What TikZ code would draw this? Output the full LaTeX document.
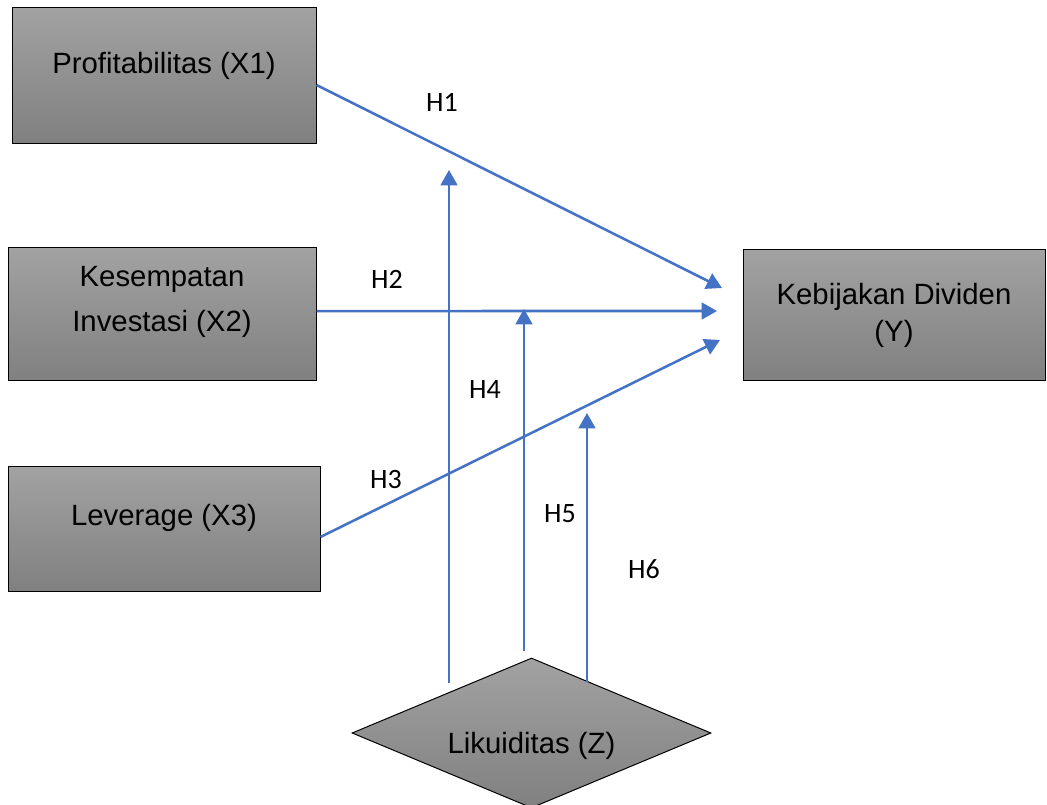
\documentclass[tikz,border=0pt]{standalone}
\usepackage{fontspec}
\setmainfont{Liberation Sans}
\newfontfamily\calib{Carlito}
\usetikzlibrary{arrows.meta,shapes.geometric}
\definecolor{lineblue}{HTML}{4472C4}
\definecolor{gtop}{HTML}{A2A2A2}
\definecolor{gbot}{HTML}{808080}
\begin{document}
\begin{tikzpicture}[x=0.75pt,y=-0.75pt,
  box/.style={draw=black, line width=0.75pt, top color=gtop, bottom color=gbot, inner sep=0pt},
  boxtext/.style={font=\fontsize{22}{30}\selectfont, align=center, text=black},
  conn/.style={draw=lineblue, line width=1.9pt, -{Triangle[length=11.5pt,width=12.5pt]}},
  hlab/.style={font=\calib\fontsize{21}{25}\selectfont, text=black, inner sep=0pt}]
\useasboundingbox (0,0) rectangle (1047,805);

\node[box, minimum width=228pt, minimum height=102pt,
  label={[boxtext, yshift=7.5pt]center:Profitabilitas (X1)}] (x1) at (164,76) {};
\node[box, minimum width=231pt, minimum height=99.75pt,
  label={[boxtext, yshift=9.4pt, font=\fontsize{22}{33.5}\selectfont]center:Kesempatan\\Investasi (X2)}] (x2) at (162,314.5) {};
\node[box, minimum width=234pt, minimum height=93.75pt,
  label={[boxtext, yshift=8.6pt]center:Leverage (X3)}] (x3) at (164,529.5) {};
\node[box, minimum width=226.5pt, minimum height=98.25pt,
  label={[boxtext, font=\fontsize{22}{28}\selectfont]center:Kebijakan Dividen\\(Y)}] (y) at (894,315.5) {};
\node[box, diamond, minimum width=269.25pt, minimum height=112.5pt,
  label={[boxtext, yshift=-9.75pt]center:Likuiditas (Z)}] (z) at (531.5,733) {};

\coordinate (t1) at (722,288);
\coordinate (t2) at (717,311);
\coordinate (t3) at (720,340);
\coordinate (z1s) at (449,683);
\coordinate (z1t) at (449,170);
\coordinate (z2s) at (524,651);
\coordinate (z2t) at (524,309);
\coordinate (z3s) at (587,682);
\coordinate (z3t) at (587,413);

\draw[conn] ([yshift=-6.75pt]x1.east) -- (t1);
\draw[conn] ([yshift=2.6pt]x2.east) -- (t2);
\draw[conn] ([yshift=-5.6pt]x3.east) -- (t3);
\draw[conn] (z1s) -- (z1t);
\draw[conn] (z2s) -- (z2t);
\draw[conn] (z3s) -- (z3t);

\node[hlab] (h1) at (442,102) {H1};
\node[hlab] (h2) at (387,279) {H2};
\node[hlab] (h3) at (386,480) {H3};
\node[hlab] (h4) at (485,390) {H4};
\node[hlab] (h5) at (560,514) {H5};
\node[hlab] (h6) at (644,569) {H6};
\end{tikzpicture}
\end{document}
